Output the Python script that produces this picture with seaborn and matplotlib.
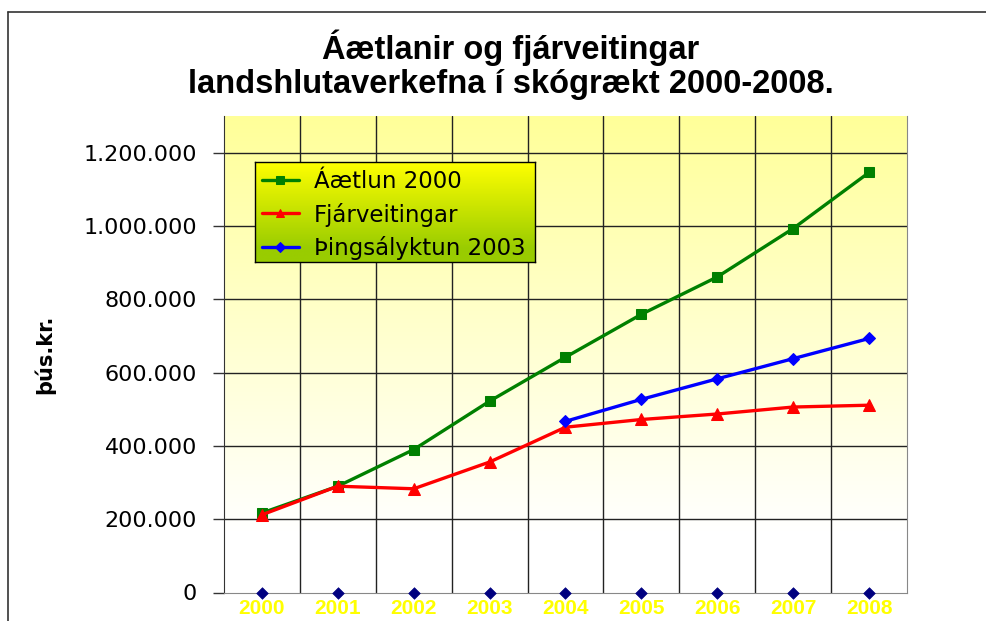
import numpy as np
import pandas as pd
import seaborn as sns
import matplotlib.pyplot as plt
from matplotlib.lines import Line2D

# ===== Gögn =====
years = ['2000', '2001', '2002', '2003', '2004', '2005', '2006', '2007', '2008']
aaetlun_2000 = [217000, 290000, 390000, 522000, 642000, 759000, 861000, 993000, 1146000]
fjarveitingar = [212000, 290000, 283000, 356000, 451000, 472000, 487000, 506000, 511000]
thingsalyktun_2003 = [np.nan, np.nan, np.nan, np.nan, 467000, 527000, 583000, 638000, 693000]
nullrod = [0, 0, 0, 0, 0, 0, 0, 0, 0]

series_names = ['Áætlun 2000', 'Fjárveitingar', 'Þingsályktun 2003']
title_lines = ['Áætlanir og fjárveitingar', 'landshlutaverkefna í skógrækt 2000-2008.']
ylabel = 'þús.kr.'
yticks = [0, 200000, 400000, 600000, 800000, 1000000, 1200000]

df = pd.DataFrame({
    'x': np.arange(len(years)),
    series_names[0]: aaetlun_2000,
    series_names[1]: fjarveitingar,
    series_names[2]: thingsalyktun_2003,
    'null': nullrod,
})

sns.set_style('white')
plt.rcParams['font.family'] = ['Liberation Sans', 'DejaVu Sans']
plt.rcParams['text.color'] = 'black'
plt.rcParams['axes.labelcolor'] = 'black'

fig = plt.figure(figsize=(9.87, 6.21), dpi=100)
fig.patch.set_facecolor('white')
ax = fig.add_axes([224 / 987, 1 - 592.5 / 621, (907 - 224) / 987, (592.5 - 116) / 621])

# bakgrunnur teiknisvæðis: gulur litbrigðaflötur
grad = np.clip(np.linspace(0, 1.15, 256), 0, 1).reshape(-1, 1)
top = np.array([1.0, 1.0, 0.6])
bot = np.array([1.0, 1.0, 1.0])
img = top[None, None, :] * (1 - grad[..., None]) + bot[None, None, :] * grad[..., None]
ax.imshow(img, extent=[0, 1, 0, 1], transform=ax.transAxes, aspect='auto', zorder=0)

styles = [
    (series_names[0], '#008000', 's', 7),
    (series_names[1], '#ff0000', '^', 8),
    (series_names[2], '#0000ff', 'D', 6),
]
for name, col, mk, ms in styles:
    d = df[['x', name]].dropna()
    sns.lineplot(data=d, x='x', y=name, color=col, marker=mk, markersize=ms,
                 markeredgecolor=col, linewidth=2.4, ax=ax, label=name, zorder=3)
sns.scatterplot(data=df, x='x', y='null', marker='D', color='#000080', s=35,
                edgecolor='#000080', ax=ax, zorder=4, clip_on=False)

ax.set_xlim(-0.5, len(years) - 0.5)
ax.set_ylim(0, 1300000)
ax.set_xticks(df['x'])
ax.set_xticklabels(years, fontsize=15, fontweight='bold', color='#ffff00')
ax.set_yticks(yticks)
ax.set_yticklabels([f'{v:,.0f}'.replace(',', '.') for v in yticks], fontsize=16,
                   color='black', family='DejaVu Sans')
ax.tick_params(axis='x', length=0, pad=5)
ax.tick_params(axis='y', length=8, width=1, color='#333333', pad=11.5, left=True)
ax.set_xlabel('')
ax.set_ylabel(ylabel, fontsize=15, fontweight='bold', family='DejaVu Sans', labelpad=20)

# grindarlínur
for v in yticks[1:]:
    ax.axhline(v, color='#222222', linewidth=1, zorder=1)
for b in np.arange(0.5, len(years) - 0.5, 1):
    ax.axvline(b, color='#222222', linewidth=1, zorder=1)

ax.spines['top'].set_visible(False)
ax.spines['left'].set_color('#333333')
ax.spines['bottom'].set_color('#888888')
ax.spines['right'].set_color('#888888')

# skýringar á litbrigðafleti
handles, labels = ax.get_legend_handles_labels()
ax.get_legend().remove()
lax = fig.add_axes([255 / 987, 1 - 262 / 621, 280 / 987, 100 / 621], zorder=10)
lgrad = np.array([[1.0, 1.0, 0.0]]) * (1 - grad) + np.array([[0.6, 0.8, 0.0]]) * grad
lax.imshow(lgrad[:, None, :], extent=[0, 1, 0, 1], aspect='auto')
lax.set_xticks([])
lax.set_yticks([])
for s in lax.spines.values():
    s.set_color('black')
    s.set_linewidth(1)
lax.legend(handles, labels, loc='center left', frameon=False,
           prop={'family': 'DejaVu Sans', 'size': 16.5}, markerscale=0.8,
           handlelength=1.6, handletextpad=0.65, labelspacing=0.4,
           borderpad=0, borderaxespad=0, bbox_to_anchor=(7 / 280, 0.47))

# titill
fig.text(511 / 987, 1 - 59.5 / 621, title_lines[0], ha='center', va='baseline',
         fontsize=23.5, fontweight='bold')
fig.text(511 / 987, 1 - 93 / 621, title_lines[1], ha='center', va='baseline',
         fontsize=23.5, fontweight='bold')

# rammi
fig.add_artist(Line2D([8 / 987, 1], [1 - 12 / 621, 1 - 12 / 621], color='#333333', linewidth=1.2))
fig.add_artist(Line2D([8 / 987, 8 / 987], [0, 1 - 12 / 621], color='#333333', linewidth=1.2))

fig.savefig('out.png', dpi=100)
